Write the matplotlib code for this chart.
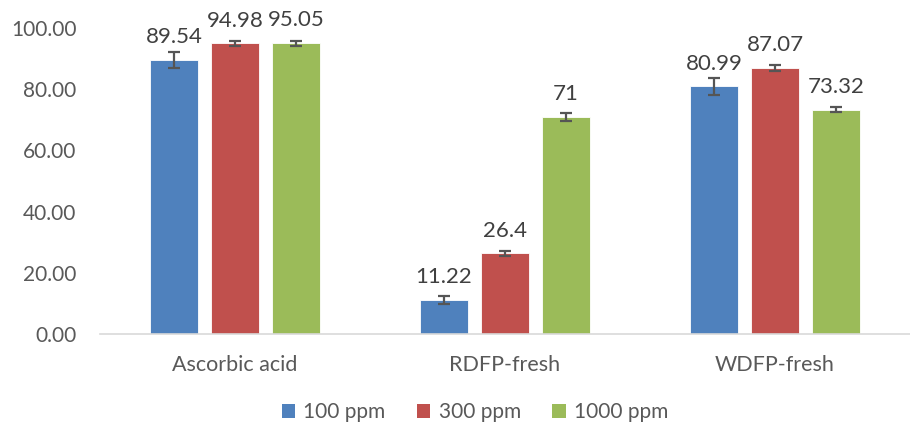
import matplotlib
matplotlib.use("Agg")
import matplotlib.pyplot as plt
import numpy as np
from matplotlib.patches import Patch

plt.rcParams['font.family'] = ['Lato', 'DejaVu Sans']

categories = ["Ascorbic acid", "RDFP-fresh", "WDFP-fresh"]
series_names = ["100 ppm", "300 ppm", "1000 ppm"]
vals_100 = [89.54, 11.22, 80.99]
vals_300 = [94.98, 26.4, 87.07]
vals_1000 = [95.05, 71, 73.32]
err_100 = [2.7, 1.3, 2.8]
err_300 = [0.7, 0.75, 1.0]
err_1000 = [0.8, 1.3, 0.8]
label_100 = ["89.54", "11.22", "80.99"]
label_300 = ["94.98", "26.4", "87.07"]
label_1000 = ["95.05", "71", "73.32"]
yticks = [0, 20, 40, 60, 80, 100]

colors = ["#4F81BD", "#C0504D", "#9BBB59"]
text_color = "#595959"

fig = plt.figure(figsize=(9.1, 4.29), dpi=100)
ax = fig.add_axes([100/910, 95/429, 810/910, (401-95)/429])

x = np.arange(len(categories))
bw = 0.181
off = 0.226
all_vals = [vals_100, vals_300, vals_1000]
all_errs = [err_100, err_300, err_1000]
all_labels = [label_100, label_300, label_1000]
for i, (v, e, lab) in enumerate(zip(all_vals, all_errs, all_labels)):
    xs = x + (i - 1) * off
    ax.bar(xs, v, width=bw, color=colors[i], edgecolor="white", linewidth=0.6, zorder=2)
    ax.errorbar(xs, v, yerr=e, fmt='none', ecolor="#555555", elinewidth=1.6,
                capsize=4.5, capthick=1.6, zorder=3)
    for xi, vi, li in zip(xs, v, lab):
        ax.annotate(li, (xi, vi), xytext=(0, 12), textcoords="offset points",
                    ha="center", va="baseline", fontsize=16, color="#404040",
                    annotation_clip=False)

ax.set_xlim(-0.5, 2.5)
ax.set_ylim(0, 100)
ax.set_yticks(yticks)
ax.set_yticklabels([f"{t:.2f}" for t in yticks])
ax.set_xticks(x)
ax.set_xticklabels(categories)
ax.tick_params(axis='y', length=0, pad=17, labelsize=15, labelcolor=text_color)
ax.tick_params(axis='x', length=0, pad=15, labelsize=15.5, labelcolor=text_color)
for s in ["top", "right", "left"]:
    ax.spines[s].set_visible(False)
ax.spines["bottom"].set_color("#D9D9D9")
ax.spines["bottom"].set_linewidth(1.2)

handles = [Patch(facecolor=c, edgecolor="none") for c in colors]
fig.legend(handles, series_names, loc="center", bbox_to_anchor=(475/910, 1 - 412/429),
           ncol=3, frameon=False, fontsize=15, labelcolor=text_color,
           handlelength=0.65, handleheight=0.65, handletextpad=0.4, columnspacing=1.5)

fig.savefig("out.png", dpi=100)
